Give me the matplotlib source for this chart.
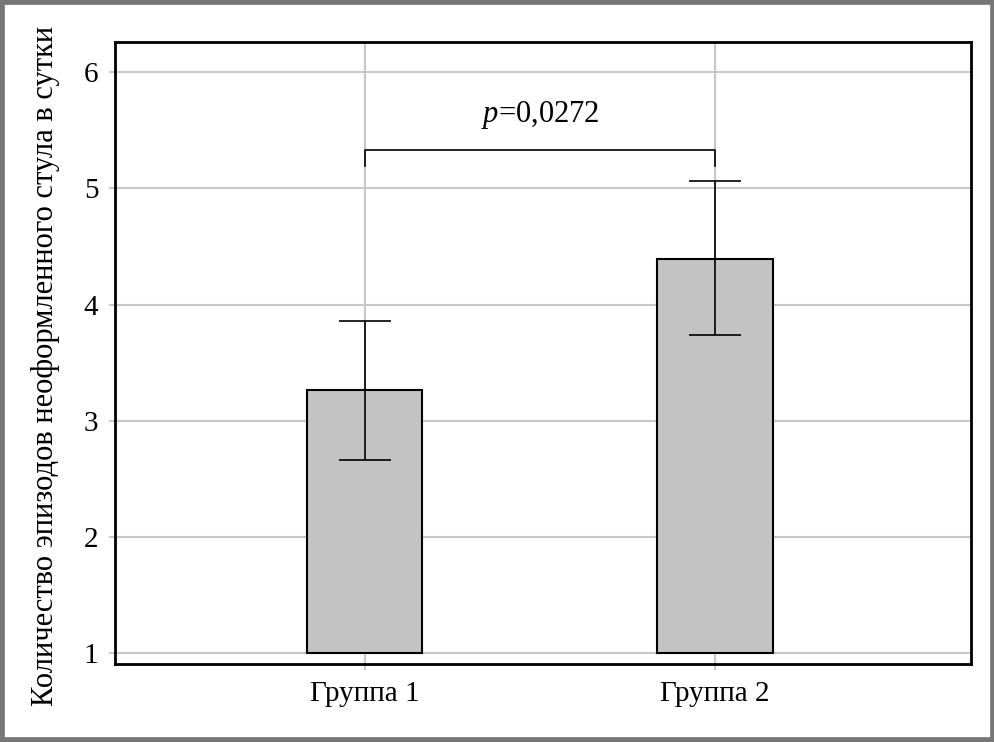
import matplotlib.pyplot as plt

plt.rcParams['font.family'] = ['Liberation Serif', 'DejaVu Serif']
plt.rcParams['mathtext.fontset'] = 'custom'
plt.rcParams['mathtext.rm'] = 'Liberation Serif'
plt.rcParams['mathtext.it'] = 'Liberation Serif:italic'

# data
groups = ['Группа 1', 'Группа 2']
means = [3.26, 4.39]
err_low = [2.66, 3.74]
err_high = [3.86, 5.06]
p_text = '$p$=0,0272'
p_level = 5.33
y_ticks = [1, 2, 3, 4, 5, 6]
base = 1

fig = plt.figure(figsize=(9.95, 7.42), dpi=100)
ax = fig.add_axes([0.1156, 0.1051, 0.8603, 0.8383])

x = [1, 2]
heights = [m - base for m in means]
yerr = [[m - lo for m, lo in zip(means, err_low)],
        [hi - m for m, hi in zip(means, err_high)]]

ax.set_axisbelow(True)
ax.grid(True, color='#c8c8c8', linewidth=1.5)
ax.bar(x, heights, bottom=base, width=0.33, color='#c3c3c3',
       edgecolor='black', linewidth=1.5)
ax.errorbar(x, means, yerr=yerr, fmt='none', ecolor='black',
            elinewidth=1.2, capsize=19, capthick=1.2)

# significance bracket
ax.plot([x[0], x[0], x[1], x[1]], [p_level - 0.14, p_level, p_level, p_level - 0.14],
        color='black', linewidth=1.2)
ax.text((x[0] + x[1]) / 2, p_level + 0.3, p_text, ha='center', va='center',
        fontsize=22)

ax.set_xlim(0.288, 2.73)
ax.set_ylim(0.905, 6.26)
ax.set_xticks(x)
ax.set_xticklabels(groups)
ax.set_yticks(y_ticks)
ax.tick_params(labelsize=21, length=4, color='#c8c8c8', width=1.5)
ax.tick_params(axis='y', pad=8)
ax.tick_params(axis='x', pad=8)
ax.set_ylabel('Количество эпизодов неоформленного стула в сутки', fontsize=22)
ax.yaxis.set_label_coords(-0.064, 0.48)
for s in ax.spines.values():
    s.set_linewidth(2)

# grey frame round the whole picture
fig.patches.append(plt.Rectangle((0, 0), 1, 1, transform=fig.transFigure,
                                 fill=False, edgecolor='#777777', linewidth=7))

fig.savefig('out.png', dpi=100)
